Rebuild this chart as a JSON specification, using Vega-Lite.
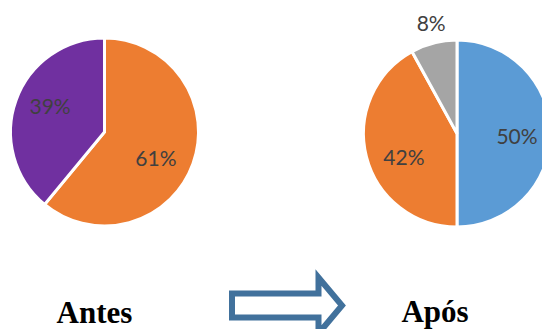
{
  "$schema": "https://vega.github.io/schema/vega-lite/v6.json",
  "padding": 0,
  "spacing": 0,
  "bounds": "flush",
  "background": "white",
  "config": {"view": {"stroke": null}},
  "resolve": {"scale": {"color": "independent", "theta": "independent"}},
  "hconcat": [
    {
      "width": 209,
      "height": 264,
      "title": {"text": "Antes", "orient": "bottom", "anchor": "middle", "dx": -10, "offset": 59, "baseline": "alphabetic", "font": "Liberation Serif", "fontSize": 31, "fontWeight": "bold", "color": "#000000"},
      "data": {"values": [
        {"i": 1, "cat": "Categoria A", "v": 61, "label": "61%"},
        {"i": 2, "cat": "Categoria B", "v": 39, "label": "39%"}
      ]},
      "encoding": {
        "theta": {"field": "v", "type": "quantitative", "stack": true},
        "order": {"field": "i"},
        "color": {"field": "cat", "type": "nominal", "scale": {"domain": ["Categoria A", "Categoria B"], "range": ["#ED7D31", "#7030A0"]}, "legend": null}
      },
      "layer": [
        {"mark": {"type": "arc", "outerRadius": 94, "stroke": "white", "strokeWidth": 3}},
        {"mark": {"type": "text", "radius": 60, "font": "Lato", "fontSize": 21, "dx": -5, "dy": 8},
         "encoding": {"text": {"condition": {"test": "datum.i == 1", "field": "label"}, "value": ""}, "color": {"value": "#404040"}}},
        {"mark": {"type": "text", "radius": 60, "font": "Lato", "fontSize": 21, "dx": 2, "dy": -4},
         "encoding": {"text": {"condition": {"test": "datum.i == 2", "field": "label"}, "value": ""}, "color": {"value": "#404040"}}}
      ]
    },
    {
      "width": 156,
      "height": 329,
      "data": {"values": [
        {"i": 1, "x": 0, "y": 0},
        {"i": 2, "x": 0, "y": 12},
        {"i": 3, "x": 86.5, "y": 12},
        {"i": 4, "x": 86.5, "y": 28},
        {"i": 5, "x": 110, "y": 0},
        {"i": 6, "x": 86.5, "y": -28},
        {"i": 7, "x": 86.5, "y": -12},
        {"i": 8, "x": 0, "y": -12},
        {"i": 9, "x": 0, "y": 0}
      ]},
      "mark": {"type": "line", "stroke": "#41719C", "strokeWidth": 6, "strokeJoin": "miter", "strokeMiterLimit": 10, "clip": false},
      "encoding": {
        "x": {"field": "x", "type": "quantitative", "scale": {"domain": [-23, 133], "nice": false, "zero": false}, "axis": null},
        "y": {"field": "y", "type": "quantitative", "scale": {"domain": [-23.5, 305.5], "nice": false, "zero": false}, "axis": null},
        "order": {"field": "i"}
      }
    },
    {
      "width": 184,
      "height": 267,
      "title": {"text": "Após", "orient": "bottom", "anchor": "middle", "dx": -22, "offset": 55, "baseline": "alphabetic", "font": "Liberation Serif", "fontSize": 31, "fontWeight": "bold", "color": "#000000"},
      "data": {"values": [
        {"i": 1, "cat": "Categoria 1", "v": 50, "label": "50%"},
        {"i": 2, "cat": "Categoria 2", "v": 42, "label": "42%"},
        {"i": 3, "cat": "Categoria 3", "v": 8, "label": "8%"}
      ]},
      "encoding": {
        "theta": {"field": "v", "type": "quantitative", "stack": true},
        "order": {"field": "i"},
        "color": {"field": "cat", "type": "nominal", "scale": {"domain": ["Categoria 1", "Categoria 2", "Categoria 3"], "range": ["#5B9BD5", "#ED7D31", "#A5A5A5"]}, "legend": null}
      },
      "layer": [
        {"mark": {"type": "arc", "outerRadius": 93.5, "stroke": "white", "strokeWidth": 3}},
        {"mark": {"type": "text", "radius": 60, "font": "Lato", "fontSize": 21, "dy": 4},
         "encoding": {"text": {"condition": {"test": "datum.i == 1", "field": "label"}, "value": ""}, "color": {"value": "#404040"}}},
        {"mark": {"type": "text", "radius": 60, "font": "Lato", "fontSize": 21, "dx": 5, "dy": 11},
         "encoding": {"text": {"condition": {"test": "datum.i == 2", "field": "label"}, "value": ""}, "color": {"value": "#404040"}}},
        {"mark": {"type": "text", "radius": 112, "font": "Lato", "fontSize": 21, "dx": 2},
         "encoding": {"text": {"condition": {"test": "datum.i == 3", "field": "label"}, "value": ""}, "color": {"value": "#404040"}}}
      ]
    }
  ]
}
